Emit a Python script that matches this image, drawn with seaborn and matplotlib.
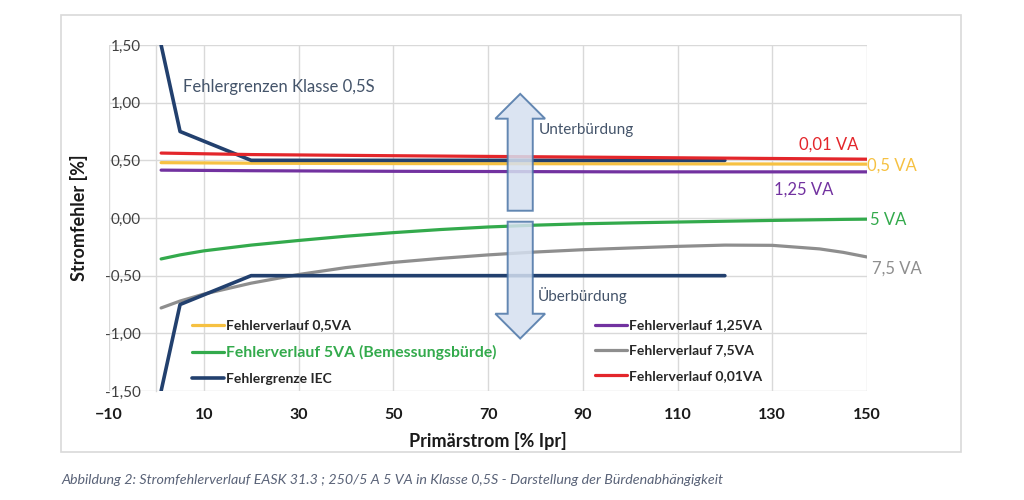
import matplotlib
matplotlib.use("Agg")
import matplotlib.pyplot as plt
import matplotlib.patches as mpatches
from matplotlib.lines import Line2D
import seaborn as sns

# ---------------- data ----------------
x_iec = [1, 5, 20, 100, 120]
iec_upper = [1.5, 0.75, 0.5, 0.5, 0.5]
iec_lower = [-1.5, -0.75, -0.5, -0.5, -0.5]

x_flat = [1, 20, 50, 100, 150]
err_001va = [0.563, 0.550, 0.540, 0.525, 0.510]
err_05va = [0.480, 0.475, 0.472, 0.470, 0.467]
err_125va = [0.415, 0.410, 0.405, 0.400, 0.400]

x_curve = [1, 5, 10, 20, 30, 40, 50, 60, 70, 80, 90, 100, 110, 120, 130, 140, 145, 150]
err_5va = [-0.355, -0.32, -0.285, -0.235, -0.195, -0.158, -0.127, -0.10, -0.078, -0.062, -0.05, -0.042,
           -0.035, -0.028, -0.021, -0.015, -0.012, -0.01]
err_75va = [-0.78, -0.72, -0.66, -0.565, -0.49, -0.43, -0.385, -0.35, -0.32, -0.295, -0.275, -0.26,
            -0.246, -0.235, -0.237, -0.268, -0.298, -0.338]

x_ticks = [-10, 10, 30, 50, 70, 90, 110, 130, 150]
y_ticks = [-1.5, -1.0, -0.5, 0.0, 0.5, 1.0, 1.5]
y_ticklabels = ["-1,50", "-1,00", "-0,50", "0,00", "0,50", "1,00", "1,50"]

# ---------------- style ----------------
sns.set_theme(style="whitegrid")
plt.rcParams["font.family"] = ["Lato", "DejaVu Sans"]

C_IEC = "#22406E"
C_RED = "#E3262B"
C_YEL = "#F6C142"
C_PUR = "#7232A0"
C_GRN = "#33AA4C"
C_GRY = "#8E8E8E"
C_TXT = "#44546A"

fig = plt.figure(figsize=(10.24, 5.0), dpi=100)
fig.patch.set_facecolor("white")
fig.add_artist(mpatches.Rectangle((61 / 1024, 1 - 452 / 500), 900 / 1024, 437 / 500,
                                  transform=fig.transFigure, fill=False,
                                  edgecolor="#D9D9D9", linewidth=1.2))

ax = fig.add_axes([109 / 1024, 1 - 391 / 500, 758 / 1024, 346 / 500])
ax.set_facecolor("white")

lw = 2.3
sns.lineplot(x=x_flat, y=err_05va, ax=ax, color=C_YEL, linewidth=lw, zorder=3)
sns.lineplot(x=x_flat, y=err_125va, ax=ax, color=C_PUR, linewidth=lw, zorder=3)
sns.lineplot(x=x_curve, y=err_5va, ax=ax, color=C_GRN, linewidth=lw, zorder=3)
sns.lineplot(x=x_curve, y=err_75va, ax=ax, color=C_GRY, linewidth=lw, zorder=3)
sns.lineplot(x=x_iec, y=iec_upper, ax=ax, color=C_IEC, linewidth=2.6, zorder=4)
sns.lineplot(x=x_iec, y=iec_lower, ax=ax, color=C_IEC, linewidth=2.6, zorder=4)
sns.lineplot(x=x_flat, y=err_001va, ax=ax, color=C_RED, linewidth=lw, zorder=5)

ax.set_xlim(-10, 150)
ax.set_ylim(-1.5, 1.5)
ax.set_xticks(x_ticks)
ax.set_yticks(y_ticks)
ax.set_yticklabels(y_ticklabels)
ax.grid(True, color="#D9D9D9", linewidth=1.0)
for s in ["top", "right", "bottom"]:
    ax.spines[s].set_visible(False)
ax.spines["left"].set_position(("data", 0))
ax.spines["left"].set_color("#D9D9D9")
ax.spines["left"].set_linewidth(1.0)
ax.tick_params(axis="both", length=0)
ax.tick_params(axis="y", pad=11, labelsize=11, labelcolor="#404040")
ax.tick_params(axis="x", pad=12, labelsize=11.5, labelcolor="#1A1A1A")
for t in ax.get_xticklabels():
    t.set_fontweight("bold")

ax.set_xlabel("Primärstrom [% Ipr]", fontsize=13, fontweight="bold", color="#1A1A1A")
ax.set_ylabel("Stromfehler [%]", fontsize=13, fontweight="bold", color="#1A1A1A")
ax.xaxis.set_label_coords(0.5, -0.118)
ax.yaxis.set_label_coords(-0.028, 0.5)

# arrows
arrow_kw = dict(length_includes_head=True, width=5.3, head_width=10.5,
                head_length=0.215, facecolor="#D5E0F0", edgecolor="#4A74A6",
                linewidth=1.4, alpha=0.85, zorder=6)
ax.add_patch(mpatches.FancyArrow(76.8, 0.063, 0, 1.076 - 0.063, **arrow_kw))
ax.add_patch(mpatches.FancyArrow(76.8, -0.032, 0, -1.045 + 0.032, **arrow_kw))

# annotations
ax.text(5.6, 1.137, "Fehlergrenzen Klasse 0,5S", color=C_TXT, fontsize=12, va="center", ha="left", zorder=7)
ax.text(80.7, 0.765, "Unterbürdung", color=C_TXT, fontsize=11, va="center", ha="left", zorder=7)
ax.text(80.5, -0.673, "Überbürdung", color=C_TXT, fontsize=11, va="center", ha="left", zorder=7)
ax.text(148.2, 0.635, "0,01 VA", color=C_RED, fontsize=12, va="center", ha="right", zorder=7)
ax.text(150.1, 0.453, "0,5 VA", color=C_YEL, fontsize=12, va="center", ha="left", zorder=7, clip_on=False)
ax.text(130.3, 0.245, "1,25 VA", color=C_PUR, fontsize=12, va="center", ha="left", zorder=7)
ax.text(150.7, -0.015, "5 VA", color=C_GRN, fontsize=12, va="center", ha="left", zorder=7, clip_on=False)
ax.text(151.1, -0.44, "7,5 VA", color=C_GRY, fontsize=12, va="center", ha="left", zorder=7, clip_on=False)

# legends
def h(c, w):
    return Line2D([], [], color=c, linewidth=w)

leg_kw = dict(frameon=False, handlelength=2.3, handletextpad=0.15, labelspacing=0.95,
              borderpad=0, borderaxespad=0, loc="upper left",
              prop={"weight": "bold", "size": 10})
leg1 = ax.legend([h(C_YEL, lw), h(C_GRN, lw), h(C_IEC, 2.6)],
                 ["Fehlerverlauf 0,5VA", "Fehlerverlauf 5VA (Bemessungsbürde)", "Fehlergrenze IEC"],
                 bbox_to_anchor=(0.1095, 0.207), **leg_kw)
leg1.get_texts()[1].set_color(C_GRN)
leg1.get_texts()[1].set_fontsize(11.3)
ax.add_artist(leg1)
leg2 = ax.legend([h(C_PUR, lw), h(C_GRY, lw), h(C_RED, lw)],
                 ["Fehlerverlauf 1,25VA", "Fehlerverlauf 7,5VA", "Fehlerverlauf 0,01VA"],
                 bbox_to_anchor=(0.641, 0.207), **leg_kw)

fig.text(61 / 1024, 1 - 480 / 500,
         "Abbildung 2: Stromfehlerverlauf EASK 31.3 ; 250/5 A 5 VA in Klasse 0,5S - Darstellung der Bürdenabhängigkeit",
         fontsize=10.3, style="italic", color="#5A6378", va="center", ha="left")

fig.savefig("out.png", dpi=100)
